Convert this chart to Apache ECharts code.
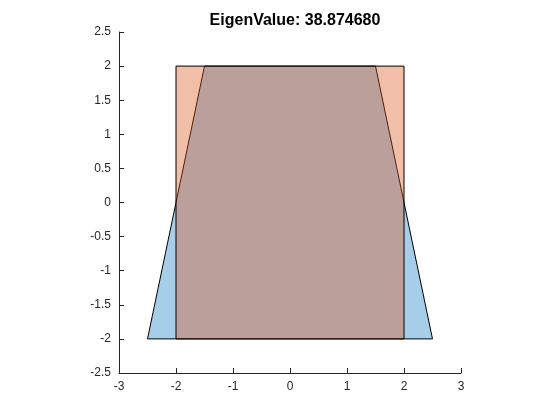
<!DOCTYPE html>
<html><head><meta charset="utf-8">
<script src="https://cdn.jsdelivr.net/npm/echarts@6/dist/echarts.min.js"></script>
<style>html,body{margin:0;padding:0;background:#fff}#c{width:560px;height:420px}</style>
</head><body><div id="c"></div>
<script>
var titleText = 'EigenValue: 38.874680';
var trapX = [-2.5, 2.5, 1.5, -1.5];
var trapY = [-2, -2, 2, 2];
var squareX = [-2, 2, 2, -2];
var squareY = [-2, -2, 2, 2];
var xTicks = [-3, -2, -1, 0, 1, 2, 3];
var yTicks = [-2.5, -2, -1.5, -1, -0.5, 0, 0.5, 1, 1.5, 2, 2.5];

function polySeries(xs, ys, fill) {
  return {
    type: 'custom',
    coordinateSystem: 'cartesian2d',
    data: [[xs[0], ys[0]]],
    clip: false,
    renderItem: function (params, api) {
      var pts = xs.map(function (x, i) { return api.coord([x, ys[i]]); });
      return {
        type: 'polygon',
        shape: { points: pts },
        style: { fill: fill, stroke: '#000', lineWidth: 1 }
      };
    },
    silent: true
  };
}

var chart = echarts.init(document.getElementById('c'), null, { renderer: 'canvas' });
chart.setOption({
  animation: false,
  backgroundColor: '#fff',
  title: {
    text: titleText, left: 290, top: 8, textAlign: 'center',
    textStyle: { fontFamily: 'Liberation Sans, Arial', fontSize: 16, fontWeight: 'bold', color: '#000' }
  },
  grid: { left: 119, right: 99, top: 32, bottom: 47, containLabel: false },
  xAxis: {
    type: 'value', min: xTicks[0], max: xTicks[xTicks.length - 1], interval: 1,
    axisLine: { onZero: false, lineStyle: { color: '#262626', width: 1 } },
    axisTick: { inside: true, length: 5, lineStyle: { color: '#262626' } },
    axisLabel: { color: '#262626', fontFamily: 'Liberation Sans, Arial', fontSize: 12, margin: 8 },
    splitLine: { show: false }
  },
  yAxis: {
    type: 'value', min: yTicks[0], max: yTicks[yTicks.length - 1], interval: 0.5,
    axisLine: { show: true, onZero: false, lineStyle: { color: '#262626', width: 1 } },
    axisTick: { show: true, inside: true, length: 5, lineStyle: { color: '#262626' } },
    axisLabel: { color: '#262626', fontFamily: 'Liberation Sans, Arial', fontSize: 12, margin: 8 },
    splitLine: { show: false }
  },
  series: [
    polySeries(trapX, trapY, 'rgba(0,114,189,0.35)'),
    polySeries(squareX, squareY, 'rgba(217,83,25,0.38)')
  ]
});
</script></body></html>
